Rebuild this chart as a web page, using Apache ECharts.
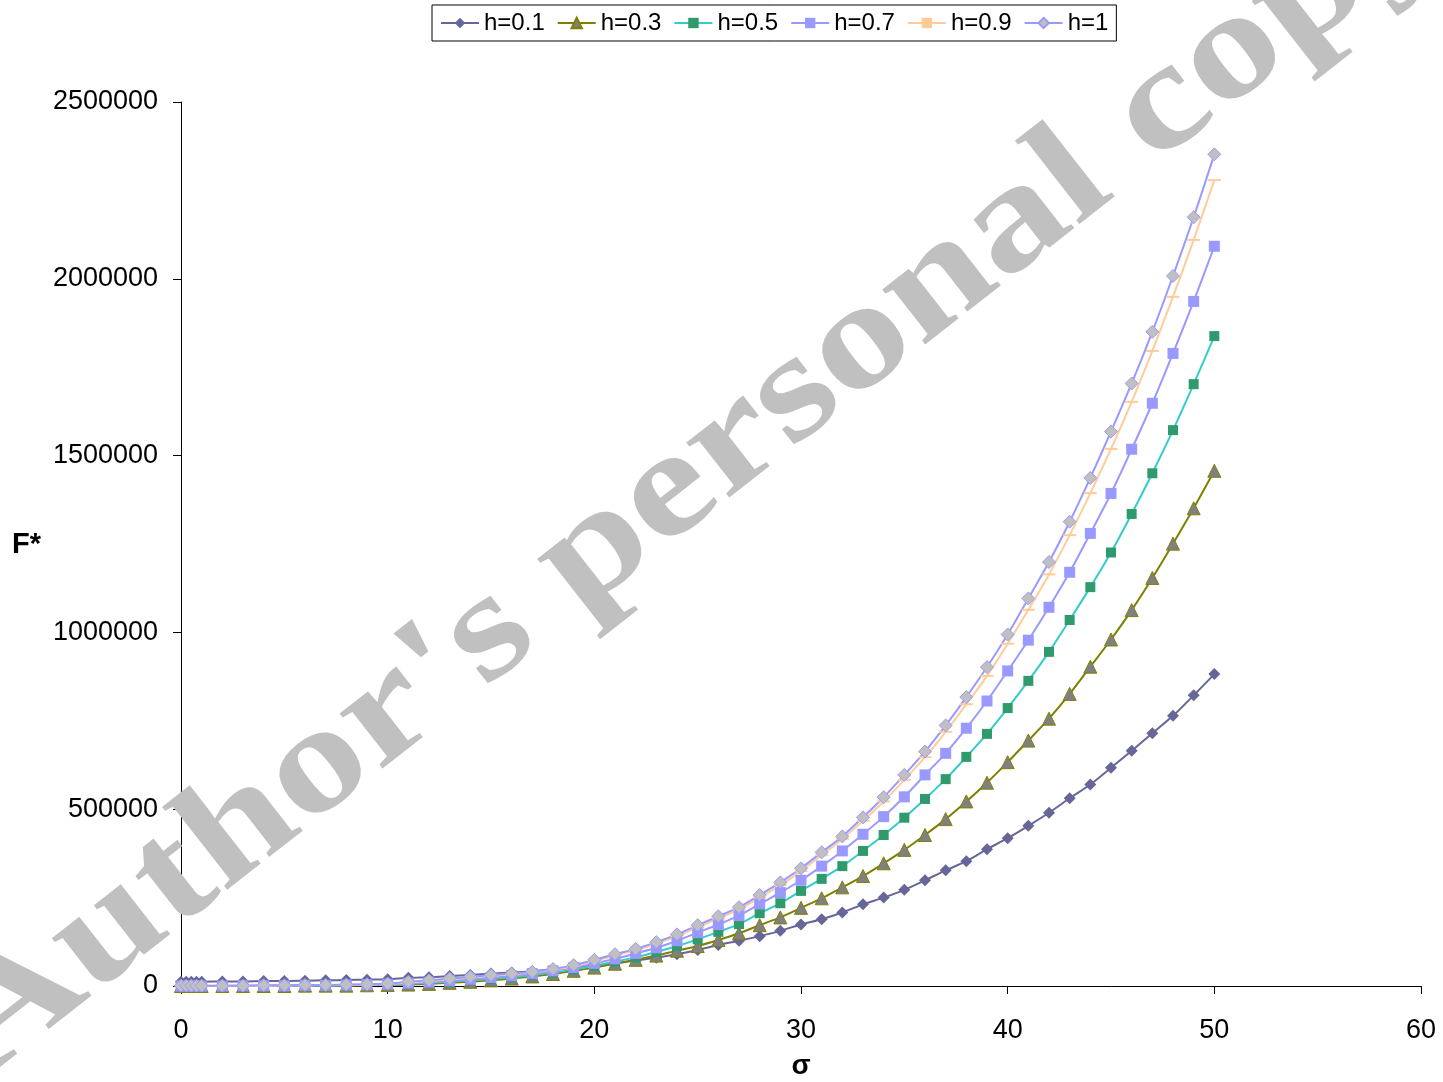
<!DOCTYPE html>
<html>
<head>
<meta charset="utf-8">
<title>F* versus sigma</title>
<script src="https://cdn.jsdelivr.net/npm/echarts@6/dist/echarts.min.js"></script>
<style>
  html, body { margin: 0; padding: 0; background: #ffffff; }
  #chart { width: 1443px; height: 1082px; }
</style>
</head>
<body>
<div id="chart"></div>
<script>
// sigma values (x)
var sigma = [0, 0.25, 0.5, 0.75, 1, 2, 3, 4, 5, 6, 7, 8, 9, 10, 11, 12, 13, 14, 15, 16, 17, 18, 19, 20,
  21, 22, 23, 24, 25, 26, 27, 28, 29, 30, 31, 32, 33, 34, 35, 36, 37, 38, 39, 40,
  41, 42, 43, 44, 45, 46, 47, 48, 49, 50];

var seriesNames = ['h=0.1', 'h=0.3', 'h=0.5', 'h=0.7', 'h=0.9', 'h=1'];

// F* for each h
var fH01 = [12000, 12000, 12000, 12000, 12000, 13000, 13000, 14000, 14000, 15000, 16000, 17000, 18000, 19000,
  23000, 25000, 28000, 31000, 35000, 38000, 42000, 47000, 52000, 58000,
  64000, 72000, 80000, 90000, 102000, 116000, 128000, 141000, 156000, 174000,
  189000, 208000, 231000, 250000, 272000, 299000, 327000, 353000, 387000, 418000,
  453000, 490000, 531000, 570000, 617000, 665000, 715000, 764000, 822000, 882000];

var fH03 = [0, 0, 0, 0, 0, 0, 0, 0, 0, 1000, 1000, 1000, 2000, 3000,
  4000, 6000, 9000, 12000, 16000, 21000, 27000, 34000, 43000, 52000,
  63000, 74000, 86000, 100000, 113000, 130000, 149000, 172000, 194000, 221000,
  248000, 279000, 311000, 347000, 385000, 427000, 472000, 522000, 575000, 633000,
  694000, 756000, 826000, 903000, 980000, 1063000, 1154000, 1251000, 1351000, 1457000];

var fH05 = [0, 0, 0, 0, 0, 0, 0, 0, 1000, 1000, 1000, 2000, 3000, 4000,
  6000, 9000, 12000, 16000, 20000, 25000, 31000, 38000, 47000, 57000,
  69000, 81000, 96000, 113000, 132000, 153000, 175000, 206000, 234000, 269000,
  303000, 339000, 382000, 427000, 476000, 529000, 585000, 648000, 713000, 786000,
  863000, 945000, 1035000, 1128000, 1226000, 1335000, 1450000, 1572000, 1702000, 1838000];

var fH07 = [0, 0, 0, 0, 0, 0, 1000, 1000, 1000, 2000, 2000, 3000, 4000, 5000,
  8000, 11000, 15000, 19000, 24000, 29000, 35000, 43000, 52000, 64000,
  77000, 92000, 108000, 128000, 151000, 174000, 199000, 232000, 264000, 299000,
  339000, 382000, 429000, 479000, 535000, 597000, 658000, 729000, 806000, 891000,
  978000, 1071000, 1170000, 1280000, 1393000, 1518000, 1648000, 1789000, 1936000, 2092000];

var fH09 = [1000, 1000, 1000, 1000, 1000, 1000, 1000, 1000, 2000, 2000, 3000, 3000, 4000, 6000,
  10000, 14000, 19000, 24000, 29000, 33000, 39000, 46000, 56000, 70000,
  87000, 101000, 120000, 141000, 166000, 191000, 217000, 250000, 285000, 325000,
  370000, 416000, 467000, 522000, 583000, 647000, 719000, 797000, 877000, 968000,
  1064000, 1164000, 1275000, 1394000, 1519000, 1652000, 1796000, 1949000, 2110000, 2279000];

var fH10 = [1000, 1000, 1000, 1000, 1000, 1000, 1000, 2000, 2000, 3000, 3000, 4000, 5000, 7000,
  12000, 16000, 21000, 26000, 31000, 35000, 40000, 48000, 59000, 74000,
  90000, 105000, 124000, 146000, 172000, 197000, 223000, 257000, 293000, 333000,
  378000, 423000, 477000, 534000, 597000, 663000, 737000, 817000, 902000, 994000,
  1096000, 1199000, 1313000, 1437000, 1568000, 1704000, 1850000, 2008000, 2174000, 2352000];

// axis ticks
var xTicks = { min: 0, max: 60, step: 10 };
var yTicks = { min: 0, max: 2500000, step: 500000 };

function pairs(ys) {
  return sigma.map(function (x, i) { return [x, ys[i]]; });
}

var FONT = '"Liberation Sans", Arial, sans-serif';
var crossPath = 'path://M0,1L1,0L5,4L9,0L10,1L6,5L10,9L9,10L5,6L1,10L0,9L4,5Z';

var chart = echarts.init(document.getElementById('chart'), null, { renderer: 'canvas' });

function lineSeries(name, ys, lineColor, symbol, size, fill, border) {
  return {
    name: name,
    type: 'line',
    data: pairs(ys),
    smooth: 0.25,
    showSymbol: true,
    symbol: symbol,
    symbolSize: size,
    lineStyle: { color: lineColor, width: 2 },
    itemStyle: { color: fill, borderColor: border || fill, borderWidth: border ? 1 : 0 },
    emphasis: { disabled: true },
    animation: false
  };
}

var option = {
  backgroundColor: '#ffffff',
  animation: false,
  grid: { left: 181, right: 22, top: 102, bottom: 96, containLabel: false },
  legend: {
    data: seriesNames,
    top: 5,
    left: 432,
    orient: 'horizontal',
    itemWidth: 38,
    itemHeight: 13,
    itemGap: 12,
    padding: [6, 8, 6, 8],
    borderColor: '#000000',
    borderWidth: 1,
    borderRadius: 0,
    textStyle: { fontFamily: FONT, fontSize: 24, color: '#000000' }
  },
  xAxis: {
    type: 'value',
    min: xTicks.min,
    max: xTicks.max,
    interval: xTicks.step,
    splitLine: { show: false },
    axisLine: { show: true, onZero: false, lineStyle: { color: '#000000', width: 1 } },
    axisTick: { show: true, inside: false, length: 8, lineStyle: { color: '#000000' } },
    axisLabel: { fontFamily: FONT, fontSize: 27, color: '#000000', margin: 31 }
  },
  yAxis: {
    type: 'value',
    min: yTicks.min,
    max: yTicks.max,
    interval: yTicks.step,
    splitLine: { show: false },
    axisLine: { show: true, lineStyle: { color: '#000000', width: 1 } },
    axisTick: { show: true, inside: false, length: 8, lineStyle: { color: '#000000' } },
    axisLabel: {
      fontFamily: FONT, fontSize: 27, color: '#000000', margin: 23,
      formatter: function (v) { return String(v); }
    }
  },
  series: [
    lineSeries('h=0.1', fH01, '#666699', 'diamond', 12, '#666699'),
    lineSeries('h=0.3', fH03, '#808000', 'triangle', 13, '#808080', '#808000'),
    lineSeries('h=0.5', fH05, '#33cccc', 'rect', 10, '#2f9a6c'),
    {
      name: 'h=0.5 marks',
      type: 'scatter',
      data: pairs(fH05),
      symbol: crossPath,
      symbolSize: 7,
      itemStyle: { color: '#33cccc' },
      emphasis: { disabled: true },
      silent: true
    },
    lineSeries('h=0.7', fH07, '#9999ff', 'rect', 11, '#9999ff'),
    lineSeries('h=0.9', fH09, '#ffcc99', 'rect', [13, 2], '#ffcc99'),
    lineSeries('h=1', fH10, '#9999ff', 'diamond', 13, '#c0c0c0', '#9999ff')
  ],
  graphic: [
    {
      type: 'text',
      left: 12,
      top: 530,
      style: { text: 'F*', font: 'bold 29px ' + FONT, fill: '#000000' }
    },
    {
      type: 'text',
      x: 801,
      y: 1066,
      style: { text: 'σ', font: 'bold 28px ' + FONT, fill: '#000000', textAlign: 'center', textVerticalAlign: 'middle' }
    },
    {
      type: 'text',
      x: 693,
      y: 476,
      rotation: 0.663,
      scaleX: 1.13,
      scaleY: 0.92,
      z: 100,
      silent: true,
      style: {
        text: "Author's personal copy",
        font: 'bold 165px "Liberation Serif", "Times New Roman", serif',
        fill: '#c0c0c0',
        textAlign: 'center',
        textVerticalAlign: 'middle'
      }
    }
  ]
};

chart.setOption(option);
</script>
</body>
</html>
